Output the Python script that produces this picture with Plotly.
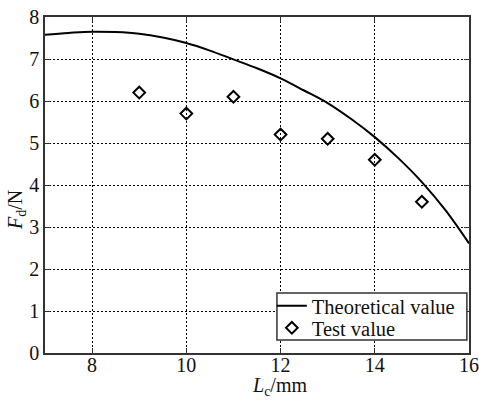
import plotly.graph_objects as go

# Theoretical curve
theory_x = [7, 7.5, 8, 8.5, 9, 9.5, 10, 10.5, 11, 11.5, 12, 12.5, 13, 13.5, 14, 14.5, 15, 15.5, 16]
theory_y = [7.58, 7.62, 7.65, 7.64, 7.6, 7.51, 7.38, 7.2, 6.99, 6.78, 6.54, 6.25, 5.95, 5.57, 5.14, 4.64, 4.07, 3.4, 2.61]

# Test values
test_x = [9, 10, 11, 12, 13, 14, 15]
test_y = [6.2, 5.7, 6.1, 5.2, 5.1, 4.6, 3.6]

x_ticks = [8, 10, 12, 14, 16]
y_ticks = [0, 1, 2, 3, 4, 5, 6, 7, 8]

FONT = "Liberation Serif"
TXT = "#111"

fig = go.Figure()
fig.add_trace(go.Scatter(
    x=theory_x, y=theory_y, mode="lines", name="Theoretical value",
    line=dict(color="black", width=2, shape="spline"), legend="legend",
))
fig.add_trace(go.Scatter(
    x=test_x, y=test_y, mode="markers", name="Test value",
    marker=dict(symbol="diamond-open", size=9, color="black", line=dict(width=2, color="black")),
    legend="legend2",
))

axis_common = dict(
    showgrid=True, gridcolor="black", griddash="2px,2px", gridwidth=1,
    showline=True, linecolor="#333", linewidth=1.5, mirror="ticks",
    ticks="inside", ticklen=5, tickcolor="#333", tickwidth=1,
    zeroline=False, automargin=False,
    tickfont=dict(family=FONT, size=20, color=TXT),
)

fig.update_xaxes(range=[7, 16], tickvals=x_ticks, ticklabelstandoff=-7, **axis_common)
fig.update_yaxes(range=[0, 8], tickvals=y_ticks, **axis_common)

leg_common = dict(xanchor="left", yanchor="middle", bgcolor="rgba(0,0,0,0)",
                  borderwidth=0, font=dict(family=FONT, size=20.5, color=TXT),
                  itemwidth=30)

fig.update_layout(
    width=479, height=401,
    margin=dict(l=45, r=10, t=17, b=48),
    paper_bgcolor="white", plot_bgcolor="white",
    font=dict(family=FONT, color=TXT),
    showlegend=True,
    legend=dict(x=0.535, y=0.140, **leg_common),
    legend2=dict(x=0.535, y=0.0745, **leg_common),
    shapes=[dict(type="rect", xref="paper", yref="paper",
                 x0=0.547, x1=0.995, y0=0.0387, y1=0.1786,
                 line=dict(color="#333", width=1.5), fillcolor="white", layer="above")],
    annotations=[
        dict(text="<i>L</i><sub>c</sub>/mm", xref="paper", yref="paper",
             x=0.554, y=-0.101, xanchor="center", yanchor="middle", showarrow=False,
             font=dict(family=FONT, size=20, color=TXT)),
        dict(text="<i>F</i><sub>d</sub>/N", xref="paper", yref="paper",
             x=-0.066, y=0.4256, xanchor="center", yanchor="middle", showarrow=False,
             textangle=-90, font=dict(family=FONT, size=20, color=TXT)),
    ],
)

fig.write_html("out.html")
